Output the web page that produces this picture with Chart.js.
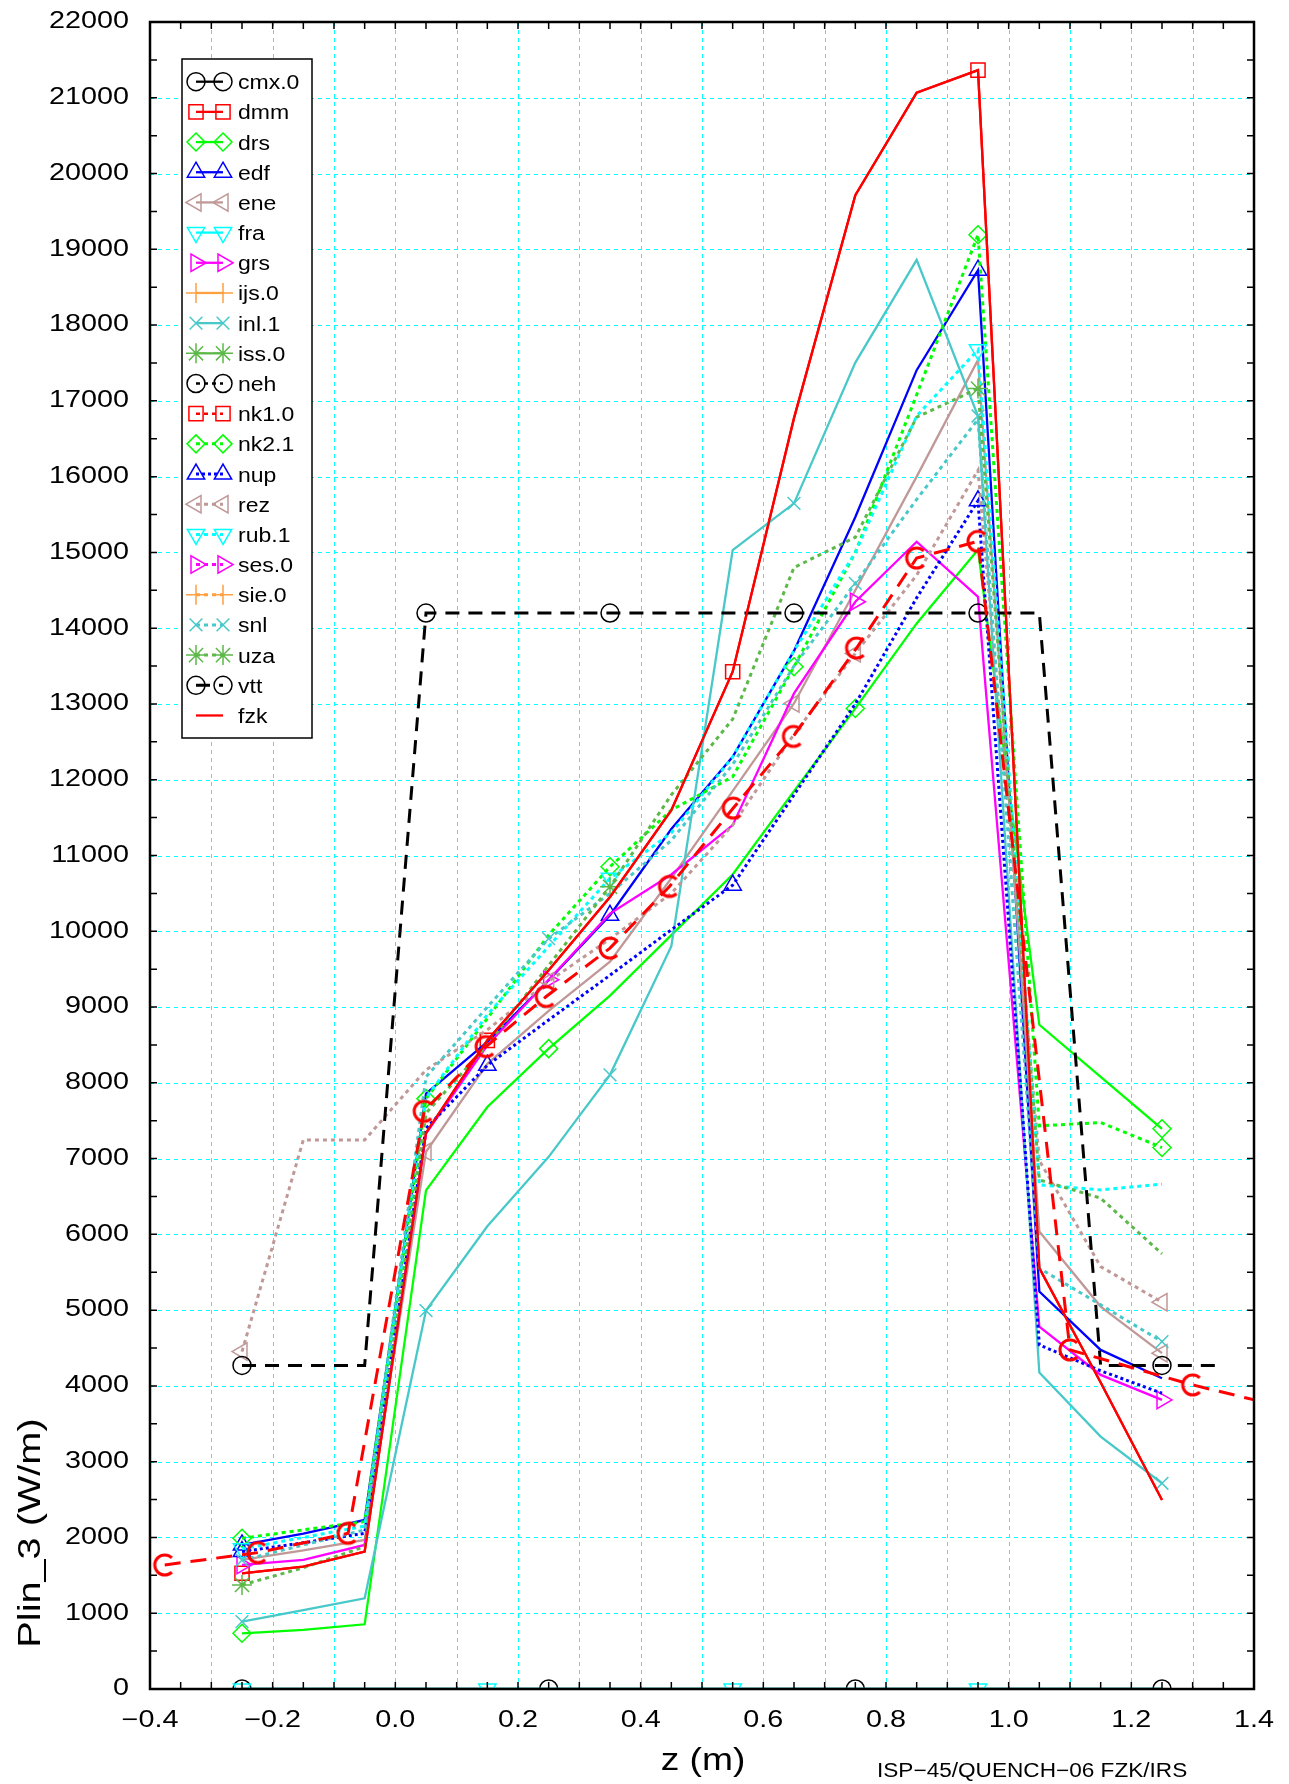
<!DOCTYPE html>
<html><head><meta charset="utf-8">
<script src="https://cdn.jsdelivr.net/npm/chart.js@4.4.1/dist/chart.umd.min.js"></script>
<style>html,body{margin:0;padding:0;background:#fff}canvas{display:block}</style>
</head><body>
<canvas id="c" width="1289" height="1784"></canvas>
<script>
// ---------------- DATA ----------------
const X16 = [-0.25,-0.15,-0.05,0.05,0.15,0.25,0.35,0.45,0.55,0.65,0.75,0.85,0.95,1.05,1.15,1.25];
const X17 = [-0.25,-0.15,-0.05,0.05,0.15,0.25,0.35,0.45,0.55,0.65,0.75,0.85,0.95,1.05,1.15,1.25,1.35];
const XC  = [-0.376,-0.224,-0.077,0.047,0.148,0.246,0.35,0.447,0.551,0.649,0.752,0.85,0.95,1.1,1.3,1.5];

const cmx0 = [0,0,0,0,0,0,0,0,0,0,0,0,0,0,0,0];
const dmm  = [1527,1615,1813,7340,8561,9485,10453,11599,13425,16772,19714,21068,21365,5554,4044,2495];
const drs  = [735,779,854,6581,7681,8451,9150,9950,10750,11850,12941,14063,15036,8766,8080,7393];
const edf  = [1901,2050,2231,7857,8539,9353,10211,11350,12303,13700,15467,17405,18725,5245,4475,4101];
const ene  = [1703,1830,1967,7090,8250,8950,9600,10700,11850,13007,14500,16000,17540,6037,5047,4432];
const fra  = [0,0,0,0,0,0,0,0,0,0,0,0,0,0,0,0];
const grs  = [1637,1703,1901,7329,8495,9360,10233,10750,11401,13139,14349,15141,14414,4783,4145,3815];
const ijs0 = [];
const inl1 = [889,1040,1197,4994,6107,7023,8105,9802,15031,15647,17505,18860,16800,4176,3331,2715];
const iss0 = [];
const neh  = [];
const nk10 = [];
const nk21 = [1989,2100,2209,7791,8850,9950,10851,11600,12039,13491,15000,17080,19193,7432,7476,7146];
const nup  = [1813,1930,2055,7400,8231,8830,9420,10020,10609,11800,13000,14400,15681,4541,4200,3903];
const rez  = [4453,7247,7247,8171,8700,9340,9900,10500,11400,12600,13667,14700,16084,6975,5575,5105];
const rub1 = [1850,2000,2150,7800,8900,9800,10700,11300,12300,13700,15000,16800,17674,6653,6587,6663];
const ses0 = [];
const sie0 = [];
const snl  = [1700,1900,2100,8077,9000,9903,10500,11200,12200,13500,14591,15700,16757,5553,5070,4585];
const uza  = [1373,1600,1879,7600,8500,9550,10587,11800,12800,14800,15200,16784,17162,6720,6478,5743];
const vtt  = [4270,4270,4270,14200,14200,14200,14200,14200,14200,14200,14200,14200,14200,14200,4270,4270,4270];
const fzk  = [1527,1615,1813,7340,8561,9485,10453,11599,13425,16772,19714,21068,21365,5554,4044,2495];
const cdat = [1637,1800,2055,7624,8479,9139,9778,10591,11626,12572,13738,14926,15146,4475,4013,3620];

const xTickLabels = [-0.4,-0.2,0.0,0.2,0.4,0.6,0.8,1.0,1.2,1.4];
const yTickLabels = [0,1000,2000,3000,4000,5000,6000,7000,8000,9000,10000,11000,12000,13000,14000,15000,16000,17000,18000,19000,20000,21000,22000];

// ---------------- STYLES ----------------
const FONT = '"Liberation Sans", Arial, Helvetica, sans-serif';
const ROSY = '#c09898', TEAL = '#48c8c8', OLIVE = '#5cb848', ORANGE = '#ffa040';
const DOT = [4,4];
const SERIES = [
 {label:'cmx.0', x:X16, y:cmx0, color:'#000000', dash:[], w:2.3, st:'circle', rot:0, r:9, every:5, off:0},
 {label:'dmm',   x:X16, y:dmm,  color:'#ff0000', dash:[], w:2.3, st:'rect', rot:0, r:10, every:4, off:0},
 {label:'drs',   x:X16, y:drs,  color:'#00ff00', dash:[], w:2.3, st:'rectRot', rot:0, r:9, every:5, off:0},
 {label:'edf',   x:X16, y:edf,  color:'#0000ff', dash:[], w:2.3, st:'triangle', rot:0, r:10, every:6, off:0},
 {label:'ene',   x:X16, y:ene,  color:ROSY, dash:[], w:2.3, st:'triangle', rot:-90, r:10, every:6, off:3},
 {label:'fra',   x:X16, y:fra,  color:'#00ffff', dash:[], w:2.3, st:'triangle', rot:180, r:10, every:4, off:0},
 {label:'grs',   x:X16, y:grs,  color:'#ff00ff', dash:[], w:2.3, st:'triangle', rot:90, r:10, every:5, off:0},
 {label:'ijs.0', x:X16, y:ijs0, color:ORANGE, dash:[], w:2.3, st:'cross', rot:0, r:10, every:4, off:0},
 {label:'inl.1', x:X16, y:inl1, color:TEAL, dash:[], w:2.3, st:'crossRot', rot:0, r:9, every:3, off:0},
 {label:'iss.0', x:X16, y:iss0, color:OLIVE, dash:[], w:2.3, st:'star', rot:0, r:10, every:4, off:0},
 {label:'neh',   x:X16, y:neh,  color:'#000000', dash:DOT, w:2.5, st:'circle', rot:0, r:9, every:4, off:0},
 {label:'nk1.0', x:X16, y:nk10, color:'#ff0000', dash:DOT, w:2.5, st:'rect', rot:0, r:10, every:4, off:0},
 {label:'nk2.1', x:X16, y:nk21, color:'#00ff00', dash:DOT, w:3, st:'rectRot', rot:0, r:9, every:3, off:0},
 {label:'nup',   x:X16, y:nup,  color:'#0000ff', dash:[3,3], w:3, st:'triangle', rot:0, r:10, every:4, off:0},
 {label:'rez',   x:X16, y:rez,  color:ROSY, dash:DOT, w:3, st:'triangle', rot:-90, r:10, every:5, off:0},
 {label:'rub.1', x:X16, y:rub1, color:'#00ffff', dash:DOT, w:3, st:'triangle', rot:180, r:10, every:6, off:0},
 {label:'ses.0', x:X16, y:ses0, color:'#ff00ff', dash:DOT, w:3, st:'triangle', rot:90, r:10, every:4, off:0},
 {label:'sie.0', x:X16, y:sie0, color:ORANGE, dash:DOT, w:3, st:'cross', rot:0, r:10, every:4, off:0},
 {label:'snl',   x:X16, y:snl,  color:TEAL, dash:DOT, w:3, st:'crossRot', rot:0, r:9, every:5, off:0},
 {label:'uza',   x:X16, y:uza,  color:OLIVE, dash:DOT, w:3, st:'star', rot:0, r:10, every:6, off:0},
 {label:'vtt',   x:X17, y:vtt,  color:'#000000', dash:[14,9], w:3, st:'circle', rot:0, r:9, every:3, off:0},
 {label:'fzk',   x:X16, y:fzk,  color:'#ff0000', dash:[], w:2.3, st:null, rot:0, r:0, every:0, off:0},
 {label:'',      x:XC,  y:cdat, color:'#ff0000', dash:[16,10], w:3, st:'C', rot:0, r:10, every:1, off:0, noLegend:true}
];

// "C" shaped marker (dashed circle) as an image
function makeC(){
  const c = document.createElement('canvas'); c.width = 28; c.height = 28;
  const g = c.getContext('2d'); g.strokeStyle = '#ff0000'; g.lineWidth = 3;
  g.beginPath(); g.arc(14,14,10,0.25*Math.PI,1.75*Math.PI); g.stroke();
  return c;
}
const CIMG = makeC();

function drawMarker(ctx, st, rot, r, x, y, color){
  if(!st) return;
  ctx.save(); ctx.translate(x,y); ctx.rotate(rot*Math.PI/180);
  ctx.strokeStyle = color; ctx.lineWidth = 1.5; ctx.setLineDash([]);
  ctx.beginPath();
  if(st==='circle'){ ctx.arc(0,0,r,0,2*Math.PI); }
  else if(st==='rect'){ const s=r*Math.SQRT1_2; ctx.rect(-s,-s,2*s,2*s); }
  else if(st==='rectRot'){ ctx.moveTo(0,-r);ctx.lineTo(r,0);ctx.lineTo(0,r);ctx.lineTo(-r,0);ctx.closePath(); }
  else if(st==='triangle'){ for(let k=0;k<3;k++){const a=k*2*Math.PI/3; const px=Math.sin(a)*r, py=-Math.cos(a)*r; k?ctx.lineTo(px,py):ctx.moveTo(px,py);} ctx.closePath(); }
  else if(st==='cross'){ ctx.moveTo(0,-r);ctx.lineTo(0,r);ctx.moveTo(-r,0);ctx.lineTo(r,0); }
  else if(st==='crossRot'){ const s=r*Math.SQRT1_2; ctx.moveTo(-s,-s);ctx.lineTo(s,s);ctx.moveTo(-s,s);ctx.lineTo(s,-s); }
  else if(st==='star'){ ctx.moveTo(0,-r);ctx.lineTo(0,r);ctx.moveTo(-r,0);ctx.lineTo(r,0); const s=r*Math.SQRT1_2; ctx.moveTo(-s,-s);ctx.lineTo(s,s);ctx.moveTo(-s,s);ctx.lineTo(s,-s); }
  ctx.stroke(); ctx.restore();
}

function sText(ctx, txt, x, y, o){
  ctx.save(); ctx.translate(x,y); if(o.rot) ctx.rotate(o.rot); ctx.scale(o.sx||1,1);
  ctx.font = o.font; ctx.textAlign = o.align||'left'; ctx.textBaseline = o.base||'alphabetic';
  ctx.fillStyle = '#000'; ctx.fillText(txt,0,0); ctx.restore();
}
function fmtX(v){ const s = Math.abs(v).toFixed(1); return (v < -1e-9 ? '\u2212' : '') + s; }

const gridPlugin = {
  id:'gridPlugin',
  beforeDatasetsDraw(chart){
    const ctx = chart.ctx, a = chart.chartArea, xs = chart.scales.x, ys = chart.scales.y;
    ctx.save();
    ctx.strokeStyle = '#00ffff'; ctx.lineWidth = 1; ctx.setLineDash([4,4]);
    ctx.beginPath();
    for(let k=1;k<18;k++){ const px = Math.round(xs.getPixelForValue(-0.4 + k*0.1)) + 0.5;
      ctx.moveTo(px,a.top); ctx.lineTo(px,a.bottom); }
    for(let k=1;k<22;k++){ const py = Math.round(ys.getPixelForValue(k*1000)) + 0.5;
      ctx.moveTo(a.left,py); ctx.lineTo(a.right,py); }
    ctx.stroke();
    ctx.restore();
  }
};

const decor = {
  id:'decor',
  afterDatasetsDraw(chart){
    const ctx = chart.ctx, a = chart.chartArea, xs = chart.scales.x, ys = chart.scales.y;
    ctx.save();
    ctx.strokeStyle = '#000'; ctx.lineWidth = 2.5; ctx.setLineDash([]);
    ctx.strokeRect(a.left, a.top, a.right-a.left, a.bottom-a.top);
    ctx.lineWidth = 1.5; ctx.beginPath();
    for(let k=0;k<=36;k++){ const px = xs.getPixelForValue(-0.4 + k*0.05);
      ctx.moveTo(px,a.bottom); ctx.lineTo(px,a.bottom-7); ctx.moveTo(px,a.top); ctx.lineTo(px,a.top+7); }
    for(let k=0;k<=44;k++){ const py = ys.getPixelForValue(k*500);
      ctx.moveTo(a.left,py); ctx.lineTo(a.left+7,py); ctx.moveTo(a.right,py); ctx.lineTo(a.right-7,py); }
    ctx.stroke();
    const tf = '23px ' + FONT;
    xTickLabels.forEach(v => sText(ctx, fmtX(v), xs.getPixelForValue(v), 1727, {font:tf, sx:1.25, align:'center'}));
    yTickLabels.forEach(v => sText(ctx, String(v), 129, ys.getPixelForValue(v), {font:tf, sx:1.25, align:'right', base:'middle'}));
    sText(ctx, 'Plin_3 (W/m)', 40, 1533, {font:'31px '+FONT, sx:1.28, align:'center', rot:-Math.PI/2});
    sText(ctx, 'z (m)', 703, 1770, {font:'31px '+FONT, sx:1.2, align:'center'});
    sText(ctx, 'ISP\u221245/QUENCH\u221206 FZK/IRS', 877, 1777, {font:'20px '+FONT, sx:1.13, align:'left'});
    const L = 182, T = 59, R = 312, B = 738;
    ctx.fillStyle = '#fff'; ctx.fillRect(L,T,R-L,B-T);
    ctx.strokeStyle = '#000'; ctx.lineWidth = 1.5; ctx.strokeRect(L,T,R-L,B-T);
    let i = 0;
    SERIES.forEach(s => {
      if(s.noLegend) return;
      const cy = 81.7 + i*30.18; i++;
      ctx.save(); ctx.strokeStyle = s.color; ctx.lineWidth = s.w; ctx.setLineDash(s.dash);
      ctx.beginPath(); ctx.moveTo(196,cy); ctx.lineTo(223,cy); ctx.stroke(); ctx.restore();
      drawMarker(ctx, s.st, s.rot, s.r, 196, cy, s.color);
      drawMarker(ctx, s.st, s.rot, s.r, 223, cy, s.color);
      sText(ctx, s.label, 238, cy+7.5, {font:'20px '+FONT, sx:1.15});
    });
    ctx.restore();
  }
};

const datasets = SERIES.map((s,i) => ({
  label: s.label,
  data: s.y.map((v,j) => ({x: s.x[j], y: v})),
  borderColor: s.color, borderWidth: s.w, borderDash: s.dash,
  backgroundColor: 'rgba(0,0,0,0)', fill: false, tension: 0,
  pointStyle: s.st === 'C' ? CIMG : (s.st || 'circle'),
  pointRotation: s.rot,
  pointBorderColor: s.color, pointBackgroundColor: 'rgba(0,0,0,0)', pointBorderWidth: 1.5,
  pointRadius: ctx => (s.every && ctx.dataIndex % s.every === s.off) ? s.r : 0,
  pointHoverRadius: 0,
  order: SERIES.length - i
}));

new Chart(document.getElementById('c'), {
  type: 'line',
  data: { datasets },
  options: {
    responsive: false, animation: false, devicePixelRatio: 1,
    layout: { padding: { left: 0, right: 35, top: 22, bottom: 0 } },
    plugins: { legend: { display: false }, tooltip: { enabled: false } },
    events: [],
    scales: {
      x: { type: 'linear', min: -0.4, max: 1.4,
           ticks: { display: false, stepSize: 0.1 },
           grid: { display: false },
           border: { display: false },
           afterFit: s => { s.height = 95; } },
      y: { type: 'linear', min: 0, max: 22000,
           ticks: { display: false, stepSize: 1000 },
           grid: { display: false },
           border: { display: false },
           afterFit: s => { s.width = 150; } }
    }
  },
  plugins: [gridPlugin, decor]
});
</script>
</body></html>
